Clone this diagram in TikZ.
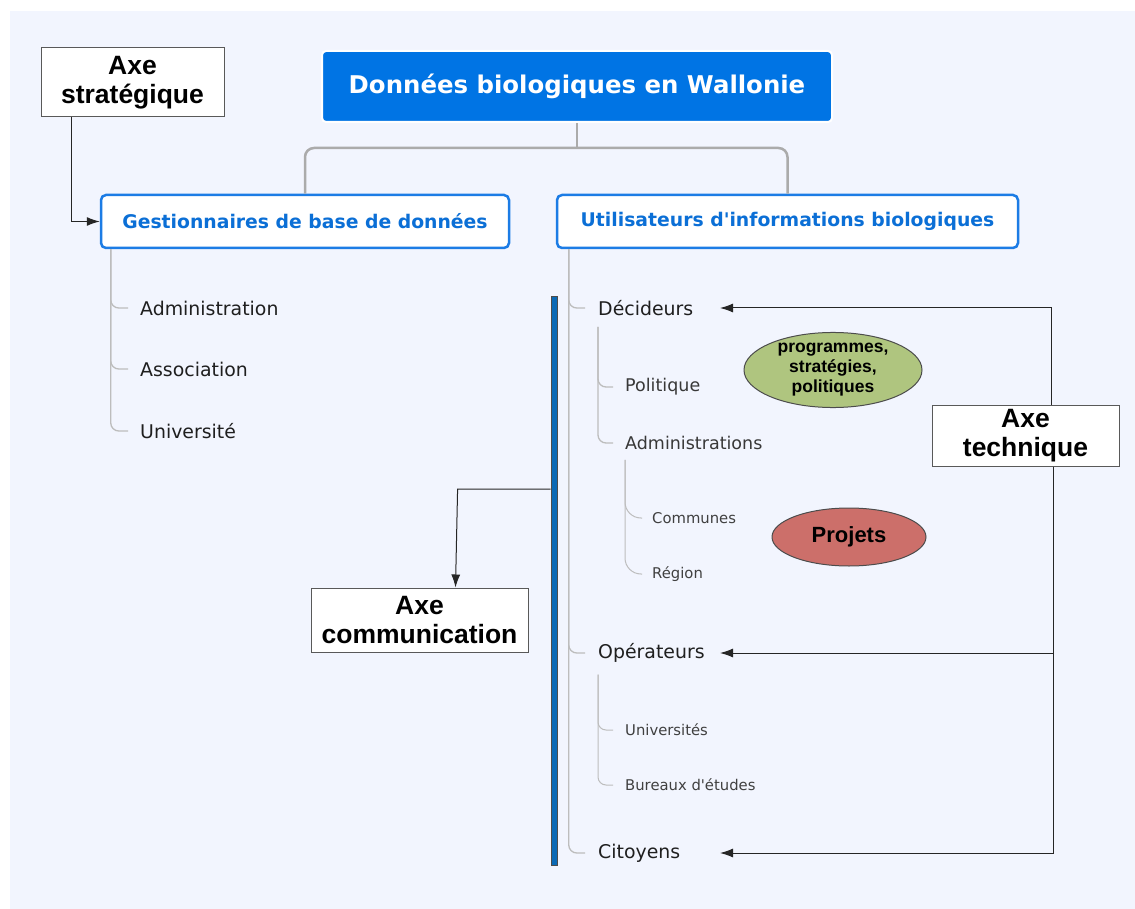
\documentclass[tikz,border=0pt]{standalone}
\usepackage{fontspec}
\setmainfont{DejaVu Sans}[Ligatures=TeXOff]
\newfontfamily\axefont{Liberation Sans}
\usetikzlibrary{arrows.meta,shapes.geometric}

\definecolor{bgblue}{HTML}{F2F5FE}
\definecolor{mainblue}{HTML}{0074E4}
\definecolor{boxblue}{HTML}{1C7CE5}
\definecolor{textblue}{HTML}{0B6FD6}
\definecolor{linkgrey}{HTML}{ABABAB}
\definecolor{treegrey}{HTML}{BDBDBD}
\definecolor{barblue}{HTML}{0B69B5}
\definecolor{progreen}{HTML}{AFC57F}
\definecolor{projred}{HTML}{CC6F6A}

\tikzset{
  titlebox/.style={fill=mainblue, draw=white, line width=2pt, rounded corners=4pt,
    minimum width=510pt, minimum height=71pt, text=white, font=\bfseries\fontsize{24.4}{28}\selectfont},
  topicbox/.style={fill=white, draw=boxblue, line width=2.5pt, rounded corners=5pt,
    minimum height=53pt, text=textblue, font=\bfseries\fontsize{18.8}{22}\selectfont},
  axebox/.style={fill=white, draw=black!65, line width=1pt, align=center, inner sep=2pt,
    font=\axefont\bfseries\fontsize{26.5}{29}\selectfont},
  itemA/.style={anchor=west, inner sep=0pt, text=black!88, font=\fontsize{18.9}{22}\selectfont},
  itemB/.style={anchor=west, inner sep=0pt, text=black!78, font=\fontsize{17.5}{20}\selectfont},
  itemC/.style={anchor=west, inner sep=0pt, text=black!75, font=\fontsize{14.8}{17}\selectfont},
  branch/.style={draw=treegrey, line width=1.3pt, rounded corners=8pt},
  link/.style={draw=linkgrey, line width=2.5pt, rounded corners=9pt},
  axarrow/.style={draw=black!85, line width=1pt, -{Latex[length=13pt,width=9pt]}},
  bubble/.style={ellipse, draw=black!70, line width=1pt, inner sep=0pt, align=center,
    font=\axefont\bfseries}
}

\begin{document}
\begin{tikzpicture}[x=1pt,y=-1pt]
  \useasboundingbox (0,0) rectangle (1135,909);
  \fill[bgblue] (10,11) rectangle (1135,909);

  % main topic and the two branches
  \node[titlebox] (title) at (577,86.5) {Données biologiques en Wallonie};
  \node[topicbox, minimum width=408pt] (gest) at (305,221.5) {Gestionnaires de base de données};
  \node[topicbox, minimum width=461pt] (uti) at (787.5,221.5) {Utilisateurs d'informations biologiques};

  \coordinate (fork) at ([yshift=-25pt]title.south);
  \draw[link, rounded corners=0pt] (title.south) -- (fork);
  \draw[link] (gest.north) |- (fork) -| (uti.north);

  % left subtopics
  \node[itemA] (adm) at (140,308) {Administration};
  \node[itemA] (asso) at (140,369) {Association};
  \node[itemA] (univ) at (140,431) {Université};
  \foreach \n in {adm,asso,univ}
    \draw[branch] ([xshift=11pt]gest.south west) |- ([xshift=-12pt]\n.west);

  % right subtopics
  \node[itemA] (dec) at (598,308) {Décideurs};
  \node[itemB] (pol) at (625,387) {Politique};
  \node[itemB] (adms) at (625,443) {Administrations};
  \node[itemC] (comm1) at (652,518) {Communes};
  \node[itemC] (reg) at (652,574) {Région};
  \node[itemA] (op) at (598,653) {Opérateurs};
  \node[itemC] (univs) at (625,730) {Universités};
  \node[itemC] (bur) at (625,785) {Bureaux d'études};
  \node[itemA] (cit) at (598,853) {Citoyens};

  \foreach \n in {dec,op,cit}
    \draw[branch] ([xshift=13pt]uti.south west) |- ([xshift=-13pt]\n.west);
  \foreach \n in {pol,adms}
    \draw[branch] ([yshift=-11pt]dec.south west) |- ([xshift=-12pt]\n.west);
  \foreach \n in {comm1,reg}
    \draw[branch, line width=1pt, rounded corners=16pt] ([yshift=-10pt]adms.south west) |- ([xshift=-10pt]\n.west);
  \foreach \n in {univs,bur}
    \draw[branch, line width=1pt] ([yshift=-12pt]op.south west) |- ([xshift=-12pt]\n.west);

  % bubbles
  \node[bubble, fill=progreen, minimum width=178pt, minimum height=74pt,
    font=\axefont\bfseries\fontsize{17.5}{20}\selectfont] (prog) at (833,370) {programmes,\\stratégies,\\politiques};
  \node[bubble, fill=projred, minimum width=154pt, minimum height=58pt,
    font=\axefont\bfseries\fontsize{22}{24}\selectfont] (proj) at (849,537) {Projets};

  % axes
  \node[axebox, minimum width=183pt, minimum height=69pt] (strat) at (132.5,82.5) {Axe\\stratégique};
  \node[axebox, minimum width=217pt, minimum height=64pt] (comm) at (419.5,620) {Axe\\communication};
  \node[axebox, minimum width=187pt, minimum height=61pt] (tech) at (1025.5,435.5) {Axe\\technique};

  \node[draw=black!70, fill=barblue, line width=0.8pt, inner sep=0pt,
    minimum width=6pt, minimum height=569pt] (bar) at (554,580.5) {};

  \coordinate (tipcol) at (720,0);
  \coordinate (tdown) at ([xshift=122pt]tech.south west);
  \draw[axarrow] ([xshift=31pt]strat.south west) |- (gest.west);
  \draw[axarrow] ([xshift=120pt]tech.north west) |- (tipcol |- dec.west);
  \draw[axarrow] (tdown) |- (tipcol |- cit.west);
  \draw[axarrow] (tdown |- op.west) -- (tipcol |- op.west);
  \draw[axarrow] ([yshift=91.5pt]bar.west) -- ++(-93,0) -- ([xshift=36pt]comm.north);
\end{tikzpicture}
\end{document}
